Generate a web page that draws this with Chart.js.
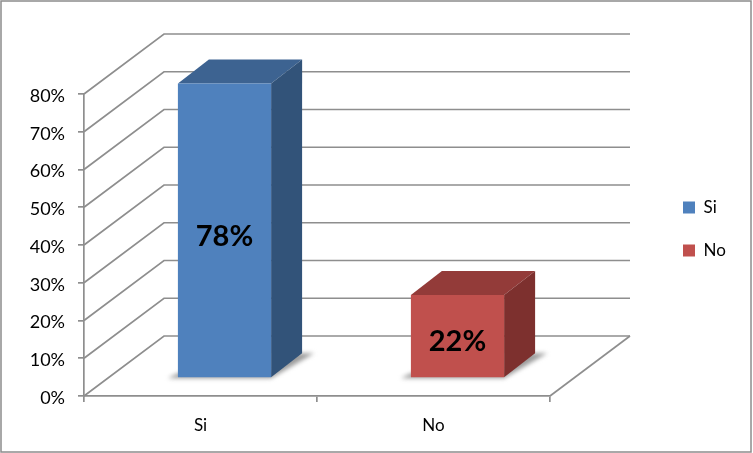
<!DOCTYPE html>
<html>
<head>
<meta charset="utf-8">
<script src="https://cdn.jsdelivr.net/npm/chart.js@4"></script>
<style>
  html, body { margin: 0; padding: 0; background: #fff; }
  #wrap { width: 753px; height: 453px; }
</style>
</head>
<body>
<div id="wrap"><canvas id="chart" width="753" height="453"></canvas></div>
<script>
// values
const categories = ["Si", "No"];
const values = [78, 22];
const yTicks = [0, 10, 20, 30, 40, 50, 60, 70, 80];

const faceColors = ["#4f81bd", "#c0504d"];
const topColors = ["#3d6391", "#933b39"];
const sideColors = ["#325379", "#7d302e"];
const lineColor = "#8e8e8e";
const fontName = "Lato, Carlito, sans-serif";

// fake 3d: how far the back wall and the bars are pushed from the front plane
const wallDx = 80, wallDy = -60;
const barDx = 24, barDy = -18;
const depthDx = 31, depthDy = -24;

function poly(ctx, pts, color) {
  ctx.beginPath();
  ctx.moveTo(pts[0][0], pts[0][1]);
  for (let i = 1; i < pts.length; i++) ctx.lineTo(pts[i][0], pts[i][1]);
  ctx.closePath();
  ctx.fillStyle = color;
  ctx.fill();
}

const walls = {
  id: "walls",
  beforeDatasetsDraw(chart) {
    const ctx = chart.ctx, y = chart.scales.y, a = chart.chartArea;
    ctx.save();
    ctx.strokeStyle = lineColor;
    ctx.lineWidth = 1.7;
    yTicks.forEach(t => {
      const py = y.getPixelForValue(t);
      ctx.beginPath();
      ctx.moveTo(a.left, py);
      ctx.lineTo(a.left + wallDx, py + wallDy);
      ctx.lineTo(a.right + wallDx, py + wallDy);
      ctx.stroke();
    });
    // right edge of the floor
    const py0 = y.getPixelForValue(0);
    ctx.beginPath();
    ctx.moveTo(a.right, py0);
    ctx.lineTo(a.right + wallDx, py0 + wallDy);
    ctx.stroke();
    ctx.restore();

    // everything of the bars lives on the plane pushed back by barDx, barDy
    ctx.save();
    ctx.translate(barDx, barDy);
    const bars = chart.getDatasetMeta(0).data;
    bars.forEach((bar, i) => {
      const l = bar.x - bar.width / 2, r = bar.x + bar.width / 2;
      // floor shadow
      ctx.save();
      ctx.filter = "blur(2px)";
      poly(ctx, [[l - 10, bar.base + 1], [r, bar.base + 1], [r + depthDx + 12, bar.base + depthDy],
        [r + depthDx - 10, bar.base + depthDy], [r, bar.base - 4], [l, bar.base - 4]], "#9c9c9c");
      ctx.restore();
      poly(ctx, [[l, bar.y], [r, bar.y], [r + depthDx, bar.y + depthDy], [l + depthDx, bar.y + depthDy]], topColors[i]);
      poly(ctx, [[r, bar.y], [r + depthDx, bar.y + depthDy], [r + depthDx, bar.base + depthDy], [r, bar.base]], sideColors[i]);
    });
  },
  afterDatasetsDraw(chart) {
    const ctx = chart.ctx;
    const bars = chart.getDatasetMeta(0).data;
    ctx.font = "bold 29px " + fontName;
    ctx.fillStyle = "#000";
    ctx.textAlign = "center";
    ctx.textBaseline = "middle";
    bars.forEach((bar, i) => {
      ctx.fillText(values[i] + "%", bar.x, (bar.y + bar.base) / 2 + 6);
    });
    ctx.restore();
  },
  afterLayout(chart) {
    // park the legend where the original has it
    const lg = chart.legend, pad = lg.options.labels.padding;
    lg.left = 683 - pad;
    lg.right = 753;
    lg.top = 199 - pad;
    lg.bottom = 453;
  },
  afterDraw(chart) {
    const ctx = chart.ctx;
    ctx.save();
    ctx.strokeStyle = "#8c8c8c";
    ctx.lineWidth = 1.5;
    ctx.strokeRect(1, 1, 750, 451);
    ctx.restore();
  }
};

const chart = new Chart(document.getElementById("chart"), {
  type: "bar",
  plugins: [walls],
  data: {
    labels: categories,
    datasets: [{
      data: values,
      backgroundColor: faceColors,
      borderWidth: 0,
      barPercentage: 0.4,
      categoryPercentage: 1,
      clip: false
    }]
  },
  options: {
    responsive: false,
    animation: false,
    layout: { padding: { top: 94, right: 110, bottom: 0, left: 0 } },
    plugins: {
      tooltip: { enabled: false },
      legend: {
        position: "right",
        align: "start",
        labels: {
          boxWidth: 12,
          boxHeight: 12,
          padding: 26,
          color: "#000",
          font: { family: fontName, size: 17 },
          generateLabels: () => categories.map((c, i) => ({
            text: c, fillStyle: faceColors[i], strokeStyle: faceColors[i], lineWidth: 0, index: i
          }))
        }
      }
    },
    scales: {
      x: {
        afterFit(s) { s.height = 57; },
        grid: { drawOnChartArea: false, color: lineColor, lineWidth: 1.7, tickLength: 6 },
        border: { color: lineColor, width: 1.7 },
        ticks: { color: "#000", padding: 13, font: { family: fontName, size: 17 } }
      },
      y: {
        min: 0,
        max: 80,
        afterFit(s) { s.width = 84; },
        afterBuildTicks(s) { s.ticks = yTicks.map(v => ({ value: v })); },
        grid: { drawOnChartArea: false, color: lineColor, lineWidth: 1.7, tickLength: 6 },
        border: { color: lineColor, width: 1.7 },
        ticks: {
          color: "#000",
          padding: 13,
          labelOffset: 2,
          font: { family: fontName, size: 18 },
          callback: v => v + "%"
        }
      }
    }
  }
});
chart.options.layout.padding.right = 203 - chart.legend.width;
chart.update("none");
</script>
</body>
</html>
